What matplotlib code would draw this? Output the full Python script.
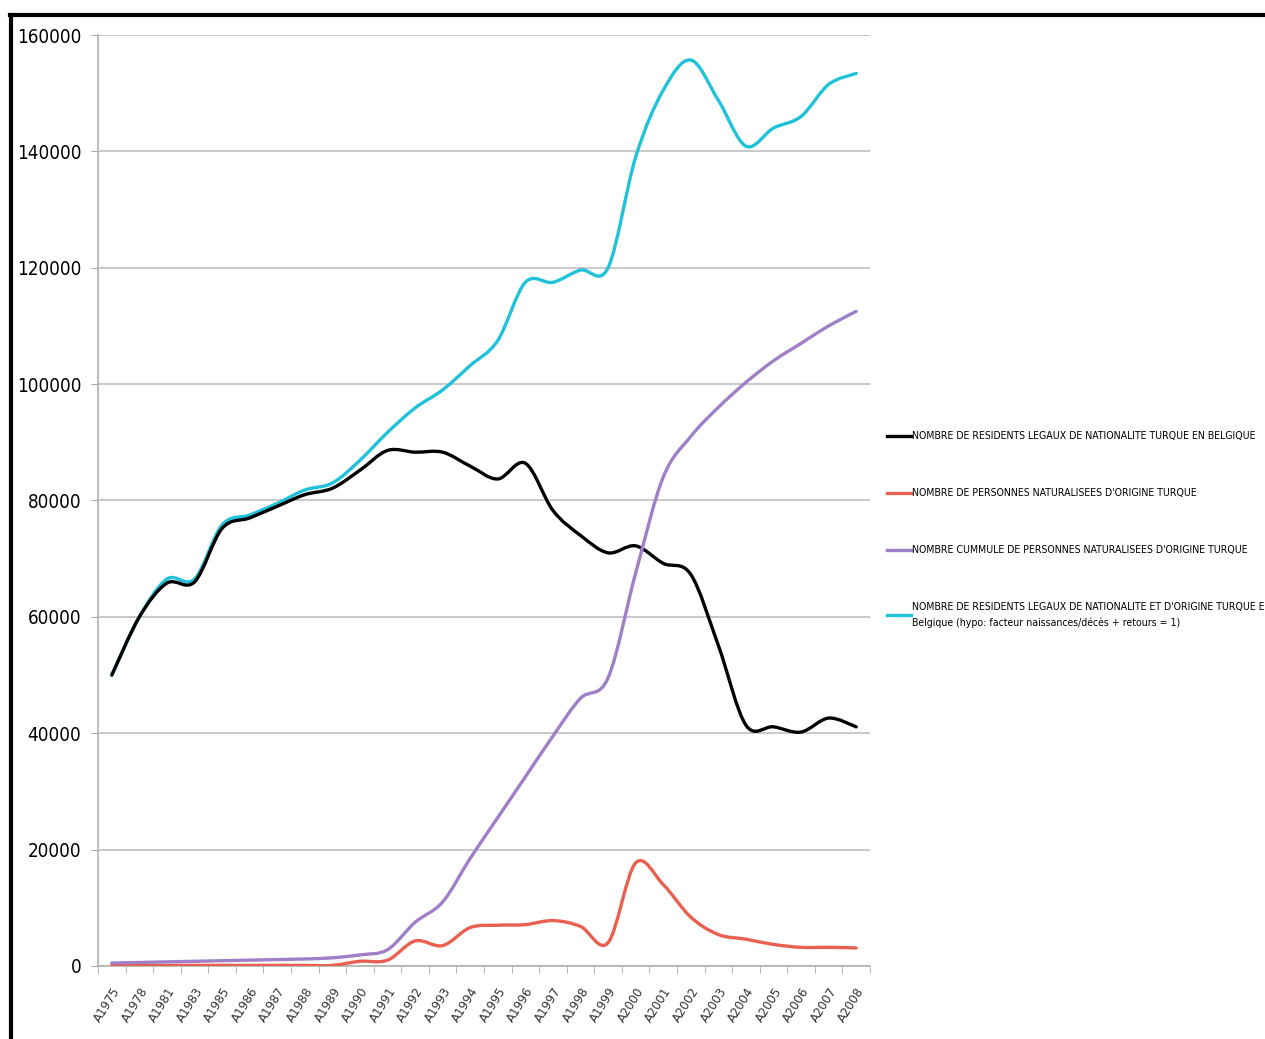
import numpy as np
import matplotlib.pyplot as plt
from matplotlib.path import Path
from matplotlib.patches import PathPatch
from matplotlib.lines import Line2D

plt.rcParams['font.family'] = ['DejaVu Sans']
plt.rcParams['font.stretch'] = 'condensed'

# categories (annees)
annees = ['A1975', 'A1978', 'A1981', 'A1983', 'A1985', 'A1986', 'A1987', 'A1988', 'A1989',
          'A1990', 'A1991', 'A1992', 'A1993', 'A1994', 'A1995', 'A1996', 'A1997', 'A1998',
          'A1999', 'A2000', 'A2001', 'A2002', 'A2003', 'A2004', 'A2005', 'A2006', 'A2007', 'A2008']

# residents legaux de nationalite turque
residents = [50000, 60000, 65800, 66000, 75200, 77000, 79000, 81000, 82100,
             85200, 88600, 88300, 88300, 85900, 83700, 86400, 78300, 74000,
             71000, 72200, 69200, 67300, 55100, 41400, 41100, 40200, 42600, 41100]

# personnes naturalisees
naturalises = [100, 100, 100, 100, 100, 100, 100, 100, 100,
               800, 1000, 4300, 3500, 6600, 7000, 7100, 7800, 6800,
               4000, 17700, 14000, 8400, 5400, 4600, 3700, 3200, 3200, 3100]

# cumul des naturalises
cumul = [500, 600, 700, 800, 900, 1000, 1100, 1200, 1400,
         1900, 2800, 7500, 11000, 18500, 25500, 32500, 39500, 46000,
         49500, 67500, 84000, 91000, 96000, 100300, 104000, 107000, 110000, 112500]

# residents de nationalite et d'origine turque
total = [50000, 60000, 66500, 66500, 75800, 77500, 79500, 81800, 83000,
         86900, 91700, 95900, 99000, 103200, 107500, 117500, 117500, 119600,
         120000, 139000, 150500, 155700, 148800, 140900, 144000, 146000, 151500, 153400]

labels = ['NOMBRE DE RESIDENTS LEGAUX DE NATIONALITE TURQUE EN BELGIQUE',
          'NOMBRE DE PERSONNES NATURALISEES D\'ORIGINE TURQUE',
          'NOMBRE CUMMULE DE PERSONNES NATURALISEES D\'ORIGINE TURQUE',
          'NOMBRE DE RESIDENTS LEGAUX DE NATIONALITE ET D\'ORIGINE TURQUE EN\n'
          'Belgique (hypo: facteur naissances/décès + retours = 1)']
couleurs = ['#000000', '#e8604f', '#9f80c8', '#1fc2d8']


def courbe_lisse(x, y):
    # courbe de Bezier passant par les points (comme le lissage Excel)
    pts = np.column_stack([x, y]).astype(float)
    verts = [pts[0]]
    codes = [Path.MOVETO]
    n = len(pts)
    for i in range(n - 1):
        p0 = pts[i - 1] if i > 0 else pts[i]
        p1 = pts[i]
        p2 = pts[i + 1]
        p3 = pts[i + 2] if i + 2 < n else pts[i + 1]
        c1 = p1 + (p2 - p0) / 6
        c2 = p2 - (p3 - p1) / 6
        verts += [c1, c2, p2]
        codes += [Path.CURVE4] * 3
    return Path(verts, codes)


fig = plt.figure(figsize=(12.65, 10.39), dpi=100)
ax = fig.add_axes([0.0775, 0.0703, 0.6102, 0.896])

x = np.arange(len(annees))
series = [residents, naturalises, cumul, total]
ordre = [3, 1, 4, 2]
for s, c, z in zip(series, couleurs, ordre):
    ax.add_patch(PathPatch(courbe_lisse(x, s), facecolor='none', edgecolor=c,
                           linewidth=2.4, capstyle='round', joinstyle='round', zorder=z + 2))

ax.set_xlim(-0.5, len(annees) - 0.5)
ax.set_ylim(0, 160000)
ax.set_yticks(np.arange(0, 160001, 20000))
ax.set_yticklabels([str(v) for v in range(0, 160001, 20000)], fontsize=13.5)
ax.set_xticks(x)
ax.set_xticklabels(annees, rotation=58, ha='right', rotation_mode='anchor', fontsize=9.5,
                   color='#333333')
ax.set_xticks(np.arange(-0.5, len(annees), 1), minor=True)
ax.tick_params(axis='x', which='major', length=0, pad=14)
ax.tick_params(axis='x', which='minor', length=5, color='#aaaaaa')
ax.tick_params(axis='y', length=5, color='#aaaaaa', pad=7)
ax.grid(axis='y', color='#c0c0c0', linewidth=1.2)
ax.set_axisbelow(True)
for cote in ['top', 'right']:
    ax.spines[cote].set_visible(False)
ax.spines['left'].set_color('#b0b0b0')
ax.spines['bottom'].set_color('#b0b0b0')
ax.spines['left'].set_linewidth(1.2)
ax.spines['bottom'].set_linewidth(1.2)

poignees = [Line2D([], [], color=c, linewidth=2.4) for c in couleurs]
leg = fig.legend(poignees, labels, loc='upper left', bbox_to_anchor=(0.698, 0.589),
                 frameon=False, fontsize=7.6, handlelength=2.3, handletextpad=0.05,
                 labelspacing=4.45, borderaxespad=0)
leg.get_texts()[3].set_linespacing(1.6)

# cadre noir
fig.add_artist(Line2D([0.009, 0.009], [0, 0.986], color='black', linewidth=3,
                      transform=fig.transFigure))
fig.add_artist(Line2D([0.008, 1.0], [0.986, 0.986], color='black', linewidth=3,
                      transform=fig.transFigure))

plt.savefig('out.png')
